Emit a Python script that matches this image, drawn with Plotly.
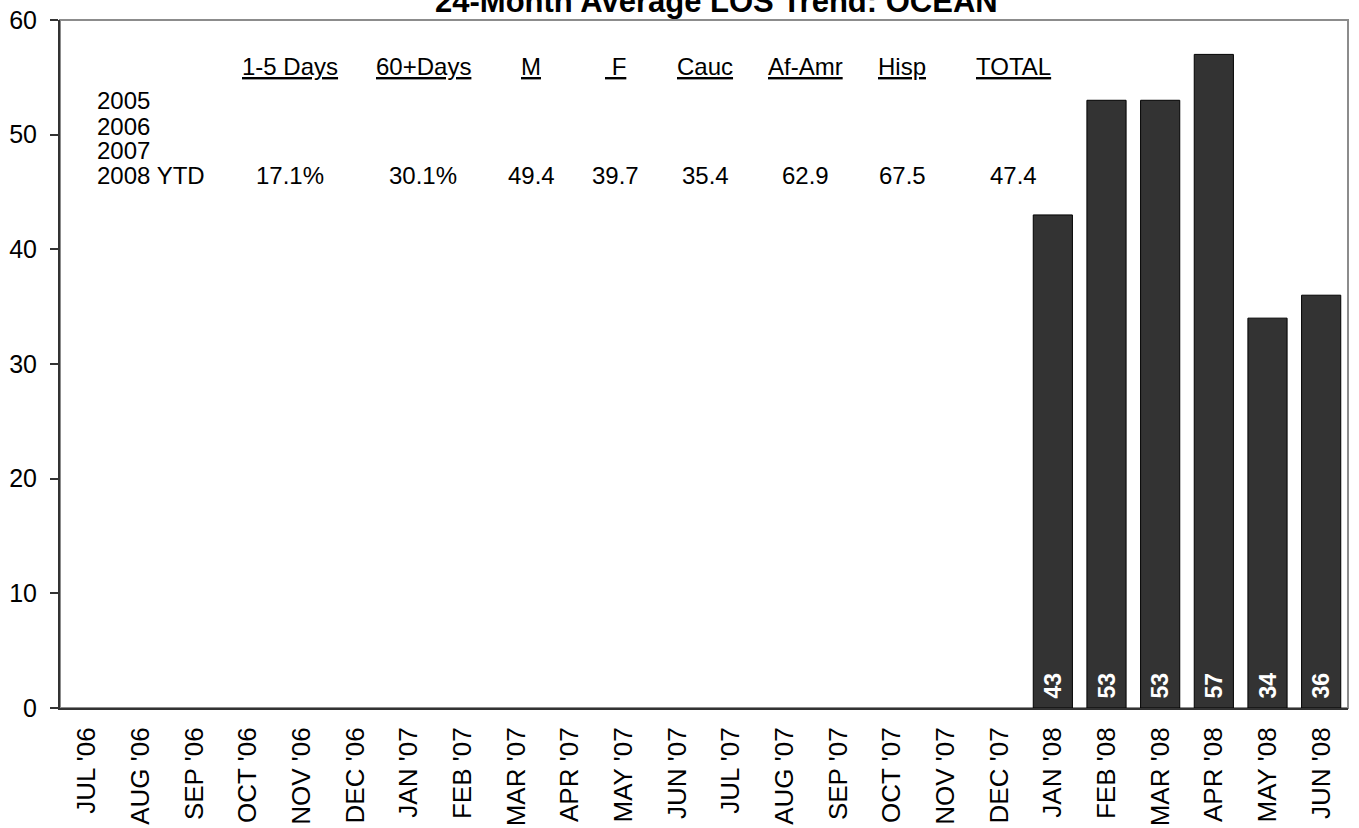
import plotly.graph_objects as go

# ---------------- data ----------------
months = ["JUL '06", "AUG '06", "SEP '06", "OCT '06", "NOV '06", "DEC '06",
          "JAN '07", "FEB '07", "MAR '07", "APR '07", "MAY '07", "JUN '07",
          "JUL '07", "AUG '07", "SEP '07", "OCT '07", "NOV '07", "DEC '07",
          "JAN '08", "FEB '08", "MAR '08", "APR '08", "MAY '08", "JUN '08"]
avg_los = [None, None, None, None, None, None,
           None, None, None, None, None, None,
           None, None, None, None, None, None,
           43, 53, 53, 57, 34, 36]

row_labels = ["2005", "2006", "2007", "2008 YTD"]
col_headers = ["1-5 Days", "60+Days", "M", "\u00a0F", "Cauc", "Af-Amr", "Hisp", "TOTAL"]
ytd_values = ["17.1%", "30.1%", "49.4", "39.7", "35.4", "62.9", "67.5", "47.4"]

title_text = "24-Month Average LOS Trend: OCEAN"

# ---------------- layout constants ----------------
W, H = 1359, 828
L, R, T, B = 60, 11, 20, 120
PW, PH = W - L - R, H - T - B
FONT = "Liberation Sans, Arial, sans-serif"


def px(xp):
    return (xp - L) / PW


def py(yp):
    return (H - B - yp) / PH


col_x = [290, 423, 531, 615, 705, 806, 902, 1013]
header_y = 66
row_y = [101, 126, 150, 176]
row_x = 95

fig = go.Figure()
fig.add_trace(go.Bar(
    x=months, y=avg_los,
    marker=dict(color="#333333", line=dict(color="#000000", width=1)),
    text=[("\u00a0%d" % v) if v is not None else "" for v in avg_los],
    textposition="inside", insidetextanchor="start", textangle=-90,
    constraintext="none",
    textfont=dict(family=FONT, size=23, color="white", weight="bold"),
    hoverinfo="x+y", showlegend=False,
))

ann = []
for lbl, yy in zip(row_labels, row_y):
    ann.append(dict(x=px(row_x), y=py(yy), xref="paper", yref="paper",
                    text=lbl, showarrow=False, xanchor="left", yanchor="middle",
                    font=dict(family=FONT, size=24, color="black")))
for h, v, xx in zip(col_headers, ytd_values, col_x):
    ann.append(dict(x=px(xx), y=py(header_y), xref="paper", yref="paper",
                    text="<u>%s</u>" % h, showarrow=False, xanchor="center", yanchor="middle",
                    font=dict(family=FONT, size=24, color="black")))
    ann.append(dict(x=px(xx), y=py(row_y[3]), xref="paper", yref="paper",
                    text=v, showarrow=False, xanchor="center", yanchor="middle",
                    font=dict(family=FONT, size=24, color="black")))
ann.append(dict(x=px(716), y=py(1), xref="paper", yref="paper",
                text="<b>%s</b>" % title_text, showarrow=False,
                xanchor="center", yanchor="middle",
                font=dict(family=FONT, size=31, color="black")))

fig.update_layout(
    width=W, height=H, autosize=False,
    margin=dict(l=L, r=R, t=T, b=B, pad=0),
    paper_bgcolor="white", plot_bgcolor="white",
    bargap=0.27,
    annotations=ann,
    shapes=[dict(type="rect", xref="paper", yref="paper", x0=0, x1=1, y0=0, y1=1,
                 line=dict(color="#8c8c8c", width=2), layer="below")],
    xaxis=dict(type="category", categoryorder="array", categoryarray=months,
               tickangle=-90, ticks="", showgrid=False, showline=True,
               linecolor="#333333", linewidth=2, automargin=False,
               tickfont=dict(family=FONT, size=26, color="black"),
               ticklabelstandoff=7),
    yaxis=dict(range=[0, 60], dtick=10, tick0=0, ticks="outside", ticklen=8,
               tickcolor="#333333", tickwidth=1.5, showgrid=False, zeroline=False,
               showline=True, linecolor="#333333", linewidth=2, automargin=False,
               ticklabelstandoff=8,
               tickfont=dict(family=FONT, size=25, color="black")),
)

fig.write_html("out.html", config={"displayModeBar": False},
               post_script="document.body.style.margin='0px';")
